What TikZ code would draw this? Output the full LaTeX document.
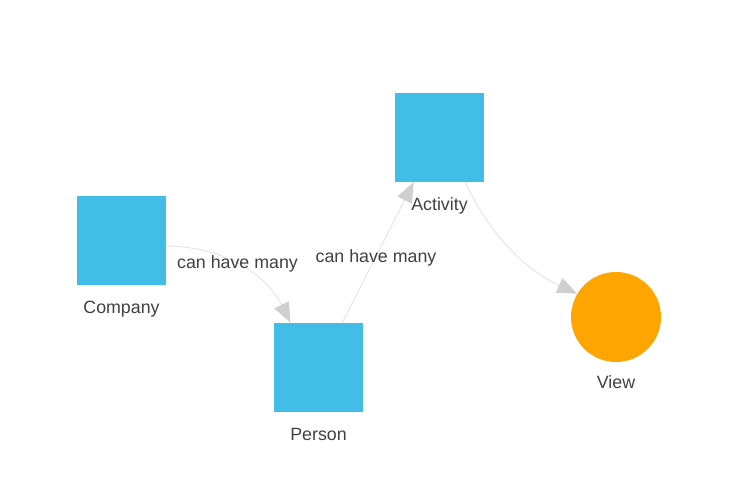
\documentclass[tikz,border=0pt]{standalone}
\usepackage{fontspec}
\setmainfont{Liberation Sans}
\usetikzlibrary{arrows.meta}
\definecolor{boxblue}{HTML}{42BDE7}
\definecolor{vieworange}{HTML}{FFA500}
\definecolor{edgegray}{HTML}{E2E2E2}
\definecolor{tipgray}{HTML}{CFCFCF}
\definecolor{txt}{HTML}{404040}
\tikzset{
  entity/.style={rectangle, fill=boxblue, minimum size=89pt, inner sep=0pt},
  viewnode/.style={circle, fill=vieworange, minimum size=90pt, inner sep=0pt},
  lbl/.style={text=txt, font=\fontsize{17.8}{20}\selectfont, inner sep=0pt},
  conn/.style={draw=edgegray, line width=0.9pt,
    -{Triangle[length=20pt,width=16pt,color=tipgray,fill=tipgray]}},
}
\begin{document}
\begin{tikzpicture}[x=1pt,y=-1pt]
\useasboundingbox (0,0) rectangle (746,495);
\node[entity] (company) at (121.5,240.5) {};
\node[entity] (person) at (318.5,367.5) {};
\node[entity] (activity) at (439.5,137.5) {};
\node[viewnode] (view) at (616,317) {};
\node[lbl] (lcompany) at (121.5,309) {Company};
\node[lbl] (lperson) at (318.5,434.5) {Person};
\node[lbl] (lactivity) at (439.5,206) {Activity};
\node[lbl] (lview) at (616,382) {View};
\draw[conn] (company.-7) .. controls (230,247) and (268,278) .. (person.122);
\draw[conn] (person.62) -- (activity.240);
\draw[conn] (activity.300) .. controls (492,240) and (530,272) .. (view.149);
\node[lbl] (e1) at (237.5,264) {can have many};
\node[lbl] (e2) at (376,258) {can have many};
\end{tikzpicture}
\end{document}
